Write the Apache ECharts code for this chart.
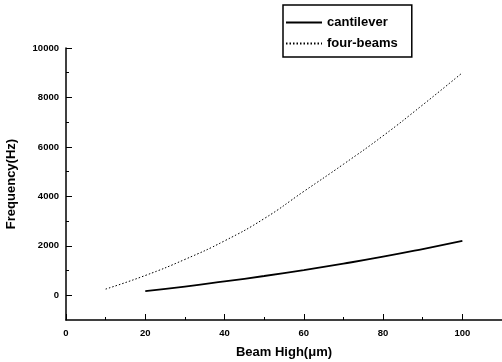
<!DOCTYPE html>
<html><head><meta charset="utf-8">
<script src="https://cdn.jsdelivr.net/npm/echarts@6/dist/echarts.min.js"></script>
<style>html,body{margin:0;padding:0;background:#fff}#c{width:502px;height:362px}</style>
</head><body><div id="c"></div>
<script>
var beamHigh = [10, 20, 30, 40, 50, 60, 70, 80, 90, 100];
var fourBeams = [250, 800, 1450, 2200, 3100, 4200, 5300, 6450, 7700, 9000];
var cantileverX = [20, 30, 40, 50, 60, 70, 80, 90, 100];
var cantilever = [170, 350, 560, 780, 1020, 1280, 1560, 1870, 2200];
var yMajorTicks = [0, 2000, 4000, 6000, 8000, 10000];
var yMinorTicks = [1000, 3000, 5000, 7000, 9000];

var font = '"Liberation Sans", Arial, sans-serif';
var chart = echarts.init(document.getElementById('c'));
function pairs(xs, ys){ return xs.map(function(x,i){return [x, ys[i]];}); }
chart.setOption({
  animation: false,
  backgroundColor: '#fff',
  grid: { left: 66, right: 0, top: 48, bottom: 42, containLabel: false, outerBoundsMode: 'none' },
  legend: {
    orient: 'vertical', left: 283, top: 5,
    borderColor: '#000', borderWidth: 1.5,
    padding: [11, 14, 7, 2], itemGap: 8,
    itemWidth: 36, itemHeight: 12,
    itemStyle: { opacity: 0 },
    textStyle: { fontFamily: font, fontSize: 13, fontWeight: 'bold', color: '#000' },
    data: ['cantilever', 'four-beams']
  },
  xAxis: {
    type: 'value', min: 0, max: 110, interval: 20,
    name: 'Beam High(\u03bcm)', nameLocation: 'middle', nameGap: 26,
    nameTextStyle: { fontFamily: font, fontSize: 13, fontWeight: 'bold', color: '#000' },
    axisLine: { onZero: false, lineStyle: { color: '#000', width: 1.5 } },
    axisTick: { inside: true, length: 6, lineStyle: { color: '#000' } },
    minorTick: { show: true, splitNumber: 2, length: 3, lineStyle: { color: '#000' } },
    axisLabel: { showMaxLabel: false, margin: 8, fontFamily: font, fontSize: 9.5, fontWeight: 'bold', color: '#000' },
    splitLine: { show: false }
  },
  yAxis: [{
    type: 'value', min: -1000, max: 10000,
    name: 'Frequency(Hz)', nameLocation: 'middle', nameGap: 48,
    nameTextStyle: { fontFamily: font, fontSize: 13, fontWeight: 'bold', color: '#000' },
    axisLine: { onZero: false, lineStyle: { color: '#000', width: 1.5 } },
    axisTick: { inside: true, length: 6, customValues: yMajorTicks, lineStyle: { color: '#000' } },
    axisLabel: { customValues: yMajorTicks, formatter: function(v){ return String(v); }, margin: 7, fontFamily: font, fontSize: 9.5, fontWeight: 'bold', color: '#000' },
    splitLine: { show: false }
  }, {
    type: 'value', min: -1000, max: 10000, position: 'left',
    axisLine: { show: false, onZero: false },
    axisTick: { inside: true, length: 3, customValues: yMinorTicks, lineStyle: { color: '#000' } },
    axisLabel: { show: false },
    splitLine: { show: false }
  }],
  series: [{
    name: 'cantilever', type: 'line', symbol: 'none', smooth: true,
    data: pairs(cantileverX, cantilever),
    lineStyle: { color: '#000', width: 1.8, type: 'solid' },
    itemStyle: { color: '#000' }
  }, {
    name: 'four-beams', type: 'line', symbol: 'none', smooth: true,
    data: pairs(beamHigh, fourBeams),
    lineStyle: { color: '#000', width: 1, type: [1.5, 2] },
    itemStyle: { color: '#000' }
  }]
});
</script></body></html>
